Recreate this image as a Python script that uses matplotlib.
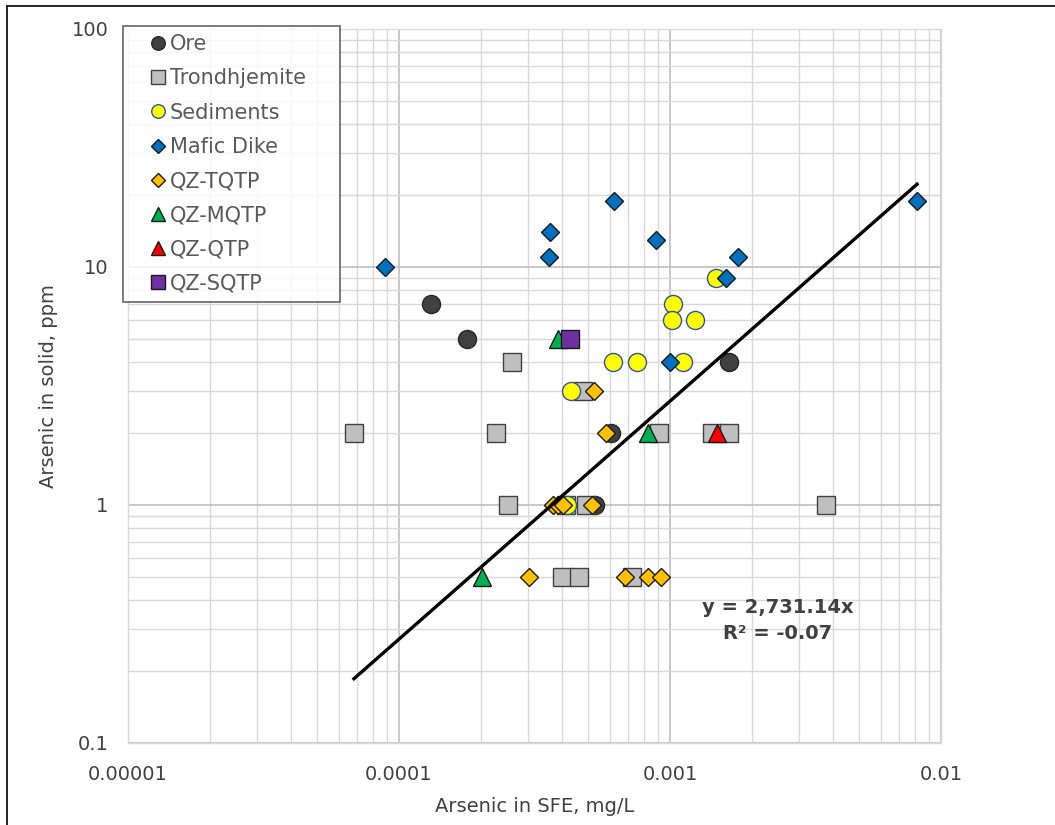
import matplotlib
matplotlib.use("Agg")
from matplotlib import pyplot as plt
from matplotlib.lines import Line2D
from matplotlib.ticker import FixedLocator, LogLocator, NullFormatter

# values (x: mg/L, y: ppm)
ore_x = [1.31e-4, 1.78e-4, 6.06e-4, 5.29e-4, 1.65e-3]
ore_y = [7, 5, 2, 1, 4]

trond_x = [6.82e-5, 2.28e-4, 2.61e-4, 2.53e-4, 4.77e-4, 9.1e-4, 1.43e-3,
           1.65e-3, 4.13e-4, 4.90e-4, 3.77e-3, 3.99e-4, 4.62e-4, 7.24e-4]
trond_y = [2, 2, 4, 1, 3, 2, 2, 2, 1, 1, 1, 0.5, 0.5, 0.5]

sed_x = [1.48e-3, 1.03e-3, 1.02e-3, 1.24e-3, 6.17e-4, 7.55e-4, 1.12e-3,
         4.31e-4, 4.17e-4]
sed_y = [9, 7, 6, 6, 4, 4, 4, 3, 1]

mafic_x = [8.88e-5, 3.61e-4, 3.58e-4, 6.21e-4, 8.88e-4, 1.78e-3, 1.61e-3,
           1.0e-3, 8.16e-3]
mafic_y = [10, 14, 11, 19, 13, 11, 9, 4, 19]

tqtp_x = [5.24e-4, 5.80e-4, 3.70e-4, 3.86e-4, 4.03e-4, 5.16e-4, 3.02e-4,
          6.82e-4, 8.29e-4, 9.27e-4]
tqtp_y = [3, 2, 1, 1, 1, 1, 0.5, 0.5, 0.5, 0.5]

mqtp_x = [3.86e-4, 8.29e-4, 2.02e-4]
mqtp_y = [5, 2, 0.5]

qtp_x = [1.49e-3]
qtp_y = [2]

sqtp_x = [4.28e-4]
sqtp_y = [5]

slope = 2731.14
r2 = -0.07

series = [
    ("Ore", ore_x, ore_y, "o", 13, "#404040", "#262626"),
    ("Trondhjemite", trond_x, trond_y, "s", 13, "#bfbfbf", "#404040"),
    ("Sediments", sed_x, sed_y, "o", 13, "#ffff00", "#2f5597"),
    ("Mafic Dike", mafic_x, mafic_y, "D", 9.5, "#0070c0", "#1a1a1a"),
    ("QZ-TQTP", tqtp_x, tqtp_y, "D", 9.5, "#ffc000", "#1a1a1a"),
    ("QZ-MQTP", mqtp_x, mqtp_y, "^", 13, "#00b050", "#1a1a1a"),
    ("QZ-QTP", qtp_x, qtp_y, "^", 13, "#ff0000", "#1a1a1a"),
    ("QZ-SQTP", sqtp_x, sqtp_y, "s", 13, "#7030a0", "#1a1a1a"),
]

plt.rcParams["font.family"] = ["DejaVu Sans"]

fig = plt.figure(figsize=(10.55, 8.25), dpi=100)
ax = fig.add_axes([128 / 1055, 1 - 743 / 825, (941 - 128) / 1055, (743 - 29) / 825])

handles = []
for i, (name, xs, ys, mk, ms, fc, ec) in enumerate(series):
    ax.plot(xs, ys, linestyle="none", marker=mk, markersize=ms,
            markerfacecolor=fc, markeredgecolor=ec, markeredgewidth=1.0,
            zorder=3 + i)
    handles.append(Line2D([], [], linestyle="none", marker=mk,
                          markersize=ms * 0.75, markerfacecolor=fc,
                          markeredgecolor=ec, markeredgewidth=1.0, label=name))

# linear trendline through origin, drawn across the data range
all_x = ore_x + trond_x + sed_x + mafic_x + tqtp_x + mqtp_x + qtp_x + sqtp_x
tx = [min(all_x), max(all_x)]
ax.plot(tx, [slope * v for v in tx], color="black", lw=2.4, zorder=20)

ax.text(2.5e-3, 0.326, f"y = {slope:,.2f}x\nR² = {r2:.2f}",
        ha="center", va="center", fontsize=14, fontweight="bold",
        color="#404040", linespacing=1.45, zorder=21)

ax.set_xscale("log")
ax.set_yscale("log")
ax.set_xlim(1e-5, 1e-2)
ax.set_ylim(0.1, 100)

ax.xaxis.set_major_locator(FixedLocator([1e-5, 1e-4, 1e-3, 1e-2]))
ax.yaxis.set_major_locator(FixedLocator([0.1, 1, 10, 100]))
ax.set_xticklabels(["0.00001", "0.0001", "0.001", "0.01"])
ax.set_yticklabels(["0.1", "1", "10", "100"])
ax.xaxis.set_minor_locator(LogLocator(base=10, subs=range(2, 10)))
ax.yaxis.set_minor_locator(LogLocator(base=10, subs=range(2, 10)))
ax.xaxis.set_minor_formatter(NullFormatter())
ax.yaxis.set_minor_formatter(NullFormatter())

ax.grid(which="major", color="#bfbfbf", lw=1.2)
ax.grid(which="minor", color="#d9d9d9", lw=1.0)
ax.set_axisbelow(True)
for sp in ax.spines.values():
    sp.set_color("#d9d9d9")
    sp.set_linewidth(1.0)

ax.tick_params(which="both", length=0, labelsize=14, labelcolor="#404040")
ax.tick_params(axis="x", pad=16)
ax.tick_params(axis="y", pad=14)

ax.set_xlabel("Arsenic in SFE, mg/L", fontsize=14, color="#404040", labelpad=9)
ax.set_ylabel("Arsenic in solid, ppm", fontsize=14, color="#404040", labelpad=10)

leg = fig.legend(handles=handles, loc="upper left",
                 bbox_to_anchor=(123 / 1055, 1 - 302 / 825, 217 / 1055, 276 / 825),
                 mode="expand", borderaxespad=0, fontsize=15, frameon=True,
                 fancybox=False, edgecolor="#404040", labelcolor="#595959",
                 handlelength=2.56, handletextpad=-0.70, labelspacing=0.68,
                 borderpad=0.40)
leg.get_frame().set_linewidth(1.2)
leg.set_zorder(30)

# outer frame of the pasted chart (left and top edges)
fig.add_artist(Line2D([7 / 1055, 7 / 1055], [0, 1 - 6 / 825],
                      transform=fig.transFigure, color="black", lw=1.2))
fig.add_artist(Line2D([7 / 1055, 1], [1 - 6 / 825, 1 - 6 / 825],
                      transform=fig.transFigure, color="black", lw=1.2))

fig.savefig("out.png", dpi=100)
